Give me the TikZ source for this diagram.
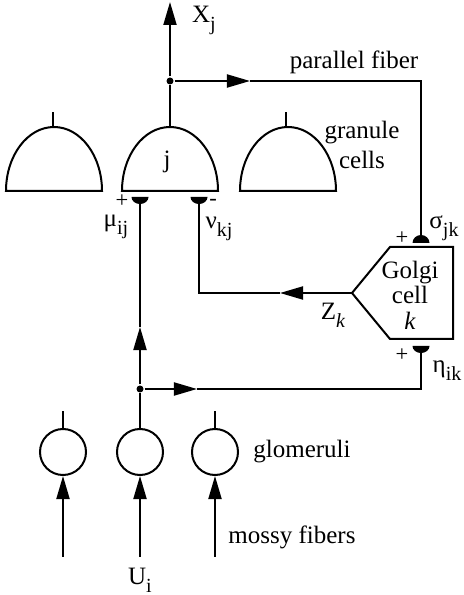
\documentclass[tikz,border=0pt]{standalone}
\usepackage{fontspec}
\setmainfont{Liberation Serif}
\usetikzlibrary{arrows.meta, positioning}
\newcommand{\lowsub}[1]{\raisebox{-0.7ex}{\footnotesize #1}}

\begin{document}
\begin{tikzpicture}[
  x=0.4pt, y=0.4pt,
  line width=0.8pt,
  >={Triangle[length=9.2pt, width=5.2pt]},
  glom/.style={draw, circle, minimum size=18.4pt, inner sep=0pt},
  junction/.style={circle, fill, inner sep=0pt, minimum size=2.8pt},
  lbl/.style={inner sep=1pt, font=\fontsize{10}{12}\selectfont},
  sign/.style={inner sep=0pt, font=\fontsize{9}{9}\selectfont},
]
\useasboundingbox (0,0) rectangle (464,595);

% Granule cells
\foreach \cx/\nm in {54/gca, 170/gcb, 288/gcc}{
  \coordinate (\nm) at (\cx,404);
  \draw (\cx-48,404) arc[start angle=180, end angle=0, x radius=48, y radius=64] -- cycle;
}
\draw (53,468) -- (53,483);
\draw (286,468) -- (286,483);
\coordinate (gcbtop) at (170,468);
\node[lbl] (jlab) at (167,433) {j};
\node[lbl, align=center] (gclab) at (362,450) {granule\\cells};

% Output and parallel fiber
\node[junction] (jout) at (170,514) {};
\coordinate (xout) at (170,593);
\coordinate (pfarr) at (250,514);
\coordinate (pfcorner) at (421,514);
\draw (gcbtop) -- (jout);
\draw[->] (jout) -- (xout);
\draw[->] (jout) -- (pfarr);
\node[lbl] (xlab) at (204,575) {X\lowsub{j}};
\node[lbl] (pflab) at (354,533) {parallel fiber};

% Synapses
\coordinate (smu) at (140,398);
\coordinate (snu) at (199,398);
\coordinate (ssig) at (421,352);
\coordinate (seta) at (421,249);
\foreach \s in {smu, snu, seta}
  \fill (\s) ++(-8.5,0) arc[start angle=180, end angle=360, x radius=8.5, y radius=7] -- cycle;
\fill (ssig) ++(-8.5,0) arc[start angle=180, end angle=0, x radius=8.5, y radius=8] -- cycle;
\draw (pfarr) -- (pfcorner) -- (ssig);

\node[sign] (pmu) at (122,394) {+};
\node[sign] (mnu) at (213,393) {-};
\node[sign] (psig) at (402,357) {+};
\node[sign] (peta) at (402,240) {+};
\node[lbl] (mulab) at (116,368) {μ\lowsub{ij}};
\node[lbl] (nulab) at (219,366) {ν\lowsub{kj}};
\node[lbl] (siglab) at (444,367) {σ\lowsub{jk}};
\node[lbl] (etalab) at (447,224) {η\lowsub{ik}};

% Golgi cell
\coordinate (gtip) at (352,302);
\coordinate (gtl) at (390,348);
\coordinate (gtr) at (453,348);
\coordinate (gbr) at (453,256);
\coordinate (gbl) at (390,256);
\draw[line join=miter] (gtip) -- (gtl) -- (gtr) -- (gbr) -- (gbl) -- cycle;
\node[align=center, inner sep=0pt, font=\fontsize{10}{10.2}\selectfont] (golgi) at (410,300) {Golgi\\cell\\\textit{k}};
\node[lbl] (zlab) at (333,280) {Z\lowsub{\textit{k}}};

% Inhibitory feedback to granule cell
\coordinate (nuarr) at (280,302);
\coordinate (nucorner) at (199,302);
\draw[->] (gtip) -- (nuarr);
\draw (nuarr) -- (nucorner) -- (snu);

% Glomeruli and mossy fibers
\foreach \x/\nm in {63/gla, 140/glb, 215/glc}{
  \node[glom] (\nm) at (\x,143) {};
  \coordinate (mf\nm) at (\x,38);
  \draw[->] (mf\nm) -- (\nm.south);
}
\draw (gla.north) -- ++(0,17);
\draw (glc.north) -- ++(0,17);
\node[lbl] (glomlab) at (302,143) {glomeruli};
\node[lbl] (mflab) at (292,58) {mossy fibers};
\node[lbl, below=3pt of mfglb] (ulab) {U\lowsub{i}};

% Mossy fiber input to granule and Golgi cells
\node[junction] (jin) at (140,206) {};
\coordinate (muarr) at (140,268);
\coordinate (etaarr) at (197,206);
\coordinate (etacorner) at (421,206);
\draw (glb.north) -- (jin);
\draw[->] (jin) -- (muarr);
\draw (muarr) -- (smu);
\draw[->] (jin) -- (etaarr);
\draw (etaarr) -- (etacorner) -- (seta);

\end{tikzpicture}
\end{document}
